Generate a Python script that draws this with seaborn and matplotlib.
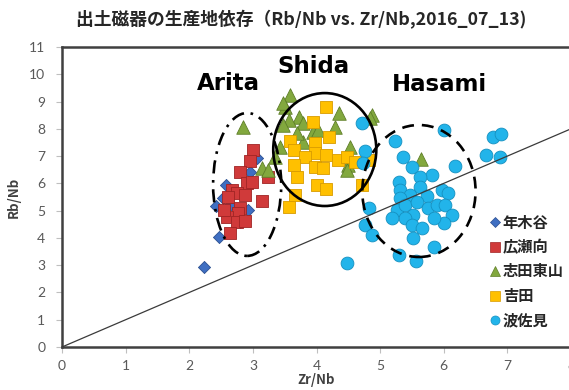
import numpy as np
import pandas as pd
import matplotlib
matplotlib.use("Agg")
import matplotlib.pyplot as plt
from matplotlib.patches import Ellipse
from matplotlib.lines import Line2D
import seaborn as sns

# ---- data (Zr/Nb, Rb/Nb) per production site ----
toshiki_x = [2.23, 2.47, 2.42, 2.53, 2.96, 3.07, 2.92, 2.64, 2.80, 2.58]
toshiki_y = [2.93, 4.03, 5.17, 5.46, 6.42, 6.93, 5.02, 5.20, 4.58, 5.94]

hirose_x = [3.00, 2.96, 2.80, 2.90, 2.98, 2.67, 2.75, 2.88, 2.61, 3.14,
            2.80, 2.77, 2.59, 2.75, 2.88, 2.64, 2.54, 3.24]
hirose_y = [7.22, 6.82, 6.43, 6.00, 6.06, 5.76, 5.64, 5.57, 5.51, 5.36,
            5.09, 4.90, 4.78, 4.59, 4.63, 4.17, 5.02, 6.24]

shida_higashi_x = [2.85, 3.14, 3.24, 3.58, 3.51, 3.72, 3.56, 3.47, 3.79, 4.35,
                   4.29, 3.95, 4.03, 4.88, 3.43, 4.53, 3.79, 4.49, 3.69, 3.35,
                   3.48, 4.84, 4.48, 5.64]
shida_higashi_y = [8.07, 6.55, 6.49, 9.24, 8.81, 8.42, 8.32, 8.14, 8.20, 8.57,
                   8.08, 7.90, 7.96, 8.51, 7.35, 7.35, 7.53, 6.67, 7.84, 6.98,
                   8.95, 8.40, 6.49, 6.88]

yoshida_x = [4.15, 3.94, 4.20, 3.58, 3.64, 3.98, 3.98, 3.82, 4.15, 4.34,
             4.48, 4.61, 3.64, 3.98, 4.11, 3.69, 4.00, 4.15, 3.66, 3.56,
             4.71, 4.82]
yoshida_y = [8.81, 8.26, 7.69, 7.57, 7.22, 7.47, 7.10, 6.98, 7.04, 6.86,
             6.98, 6.80, 6.67, 6.61, 6.55, 6.24, 5.94, 5.78, 5.57, 5.14,
             5.94, 6.86]

hasami_x = [4.72, 5.24, 6.00, 4.76, 4.73, 5.36, 5.50, 5.81, 6.18, 5.29,
            5.62, 5.63, 5.31, 5.47, 5.73, 5.97, 6.07, 5.31, 5.26, 5.39,
            5.58, 5.76, 5.89, 6.02, 6.13, 6.00, 5.84, 5.52, 5.39, 5.18,
            5.50, 5.66, 5.52, 4.82, 4.76, 4.87, 5.84, 5.29, 5.57, 4.48,
            6.78, 6.90, 6.66, 6.88]
hasami_y = [8.20, 7.55, 7.96, 7.20, 6.76, 6.98, 6.61, 6.31, 6.64, 6.06,
            6.24, 5.88, 5.76, 5.57, 5.54, 5.76, 5.64, 5.45, 5.02, 5.21,
            5.33, 5.09, 5.21, 5.21, 4.84, 4.53, 4.72, 4.84, 4.72, 4.72,
            4.47, 4.35, 3.99, 5.09, 4.47, 4.11, 3.68, 3.37, 3.16, 3.07,
            7.69, 7.81, 7.04, 6.98]

site_names = ["年木谷", "広瀬向", "志田東山", "吉田", "波佐見"]
x_ticks = [0, 1, 2, 3, 4, 5, 6, 7, 8]
y_ticks = [0, 1, 2, 3, 4, 5, 6, 7, 8, 9, 10, 11]

frames = []
for name, xs, ys in zip(site_names,
                        [toshiki_x, hirose_x, shida_higashi_x, yoshida_x, hasami_x],
                        [toshiki_y, hirose_y, shida_higashi_y, yoshida_y, hasami_y]):
    frames.append(pd.DataFrame({"Zr/Nb": xs, "Rb/Nb": ys, "site": name}))
df = pd.concat(frames, ignore_index=True)

# ---- styling ----
sns.set_style("white")
plt.rcParams["font.family"] = ["Noto Sans CJK JP", "DejaVu Sans"]

styles = {
    "年木谷":  dict(marker="D", color="#3F6FC2", edge="#2B4F90", s=38),
    "広瀬向":  dict(marker="s", color="#D03A3A", edge="#A02424", s=80),
    "志田東山": dict(marker="^", color="#82A83E", edge="#5E7E28", s=95),
    "吉田":    dict(marker="s", color="#FFC000", edge="#D89B00", s=80),
    "波佐見":  dict(marker="o", color="#22B4EA", edge="#1690C0", s=85),
}

fig = plt.figure(figsize=(5.69, 3.90), dpi=100)
ax = fig.add_axes([62 / 569, 43 / 390, 509 / 569, 300 / 390])

for i, name in enumerate(site_names):
    st = styles[name]
    sns.scatterplot(data=df[df["site"] == name], x="Zr/Nb", y="Rb/Nb",
                    marker=st["marker"], color=st["color"], edgecolor=st["edge"],
                    linewidth=0.6, s=st["s"], ax=ax, zorder=2 + i, legend=False)

# 1:1 reference line
ax.plot([0, 8], [0, 8], color="#3A3A3A", lw=0.9, zorder=10)

# group outlines
ax.add_patch(Ellipse((2.91, 5.96), 1.07, 5.24, fill=False, ec="black", lw=1.9,
                     ls=(0, (5, 2.5, 1, 2.5)), zorder=11))
ax.add_patch(Ellipse((4.13, 7.24), 1.62, 4.14, fill=False, ec="black", lw=1.9,
                     zorder=11))
ax.add_patch(Ellipse((5.61, 5.72), 1.78, 4.84, fill=False, ec="black", lw=1.9,
                     ls=(0, (4.5, 3)), zorder=11))

for label, (tx, ty) in {"Arita": (2.61, 9.68), "Shida": (3.95, 10.27),
                        "Hasami": (5.94, 9.64)}.items():
    ax.text(tx, ty, label, ha="center", va="center", fontsize=16.5,
            fontweight="bold", family="DejaVu Sans", color="black", zorder=12)

ax.set_xlim(0, 8)
ax.set_ylim(0, 11)
ax.set_xticks(x_ticks)
ax.set_yticks(y_ticks)
ax.tick_params(axis="both", which="major", direction="out", length=4,
               width=0.8, color="#BFBFBF", labelsize=10, labelcolor="#595959",
               bottom=True, left=True)
ax.tick_params(axis="x", pad=5)
ax.tick_params(axis="y", pad=8)
for lab in ax.get_xticklabels() + ax.get_yticklabels():
    lab.set_family(["Lato", "DejaVu Sans"])

for side in ["left", "bottom", "top", "right"]:
    ax.spines[side].set_color("#404040")
    ax.spines[side].set_linewidth(1.8)

ax.set_xlabel("Zr/Nb", fontsize=9.5, fontweight="bold", color="#404040", labelpad=1)
ax.set_ylabel("Rb/Nb", fontsize=9.5, fontweight="bold", color="#404040", labelpad=6)

fig.text(301 / 569, 1 - 20 / 390, "出土磁器の生産地依存（Rb/Nb vs. Zr/Nb,2016_07_13)",
         ha="center", va="center", fontsize=12.8, fontweight="bold", color="#262626")

handles = [Line2D([], [], ls="none", marker=styles[n]["marker"],
                  markerfacecolor=styles[n]["color"],
                  markeredgecolor=styles[n]["edge"], markeredgewidth=0.5,
                  markersize=6.5 if n != "年木谷" else 5) for n in site_names]
leg = ax.legend(handles, site_names, loc="upper left",
                bbox_to_anchor=(483 / 569, 1 - 207 / 390),
                bbox_transform=fig.transFigure, frameon=False,
                handlelength=0.6, handletextpad=0.2, labelspacing=0.55,
                borderpad=0, prop={"size": 11, "weight": "bold"})
leg.set_zorder(20)
for t in leg.get_texts():
    t.set_color("#262626")

fig.savefig("out.png", dpi=100)
